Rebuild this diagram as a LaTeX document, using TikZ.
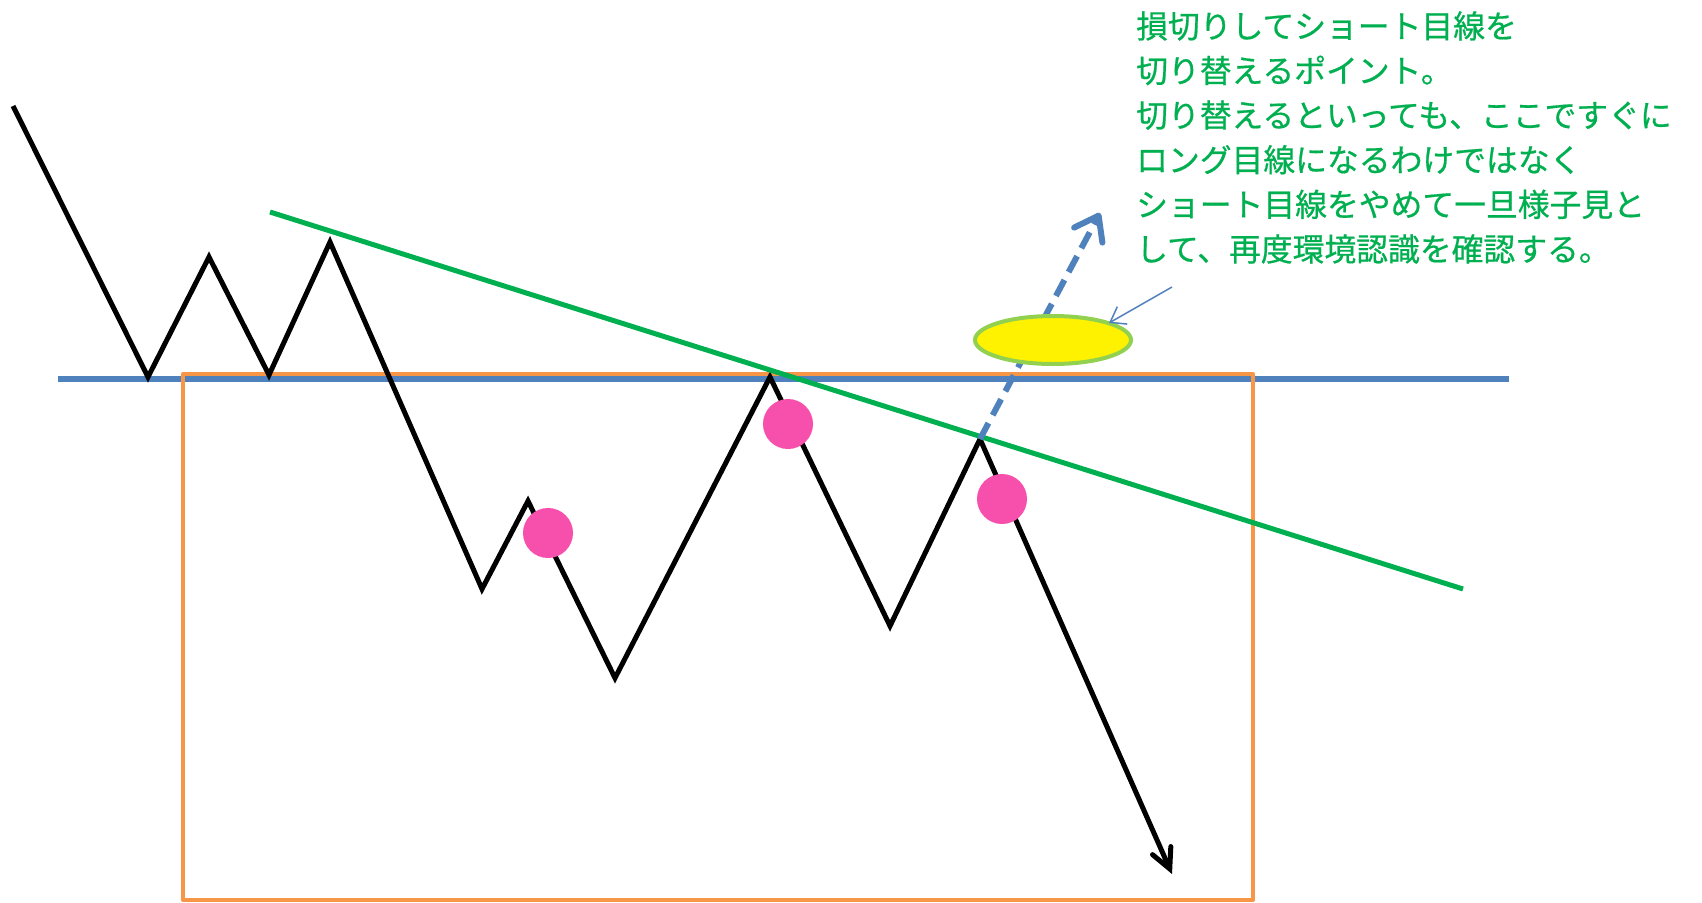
\documentclass[tikz,border=0pt]{standalone}
\usepackage{fontspec}
\newfontfamily\jp[FakeBold=0.6]{Noto Sans CJK JP}
\usetikzlibrary{arrows.meta}
\definecolor{cblue}{HTML}{4F81BD}
\definecolor{corange}{HTML}{F79646}
\definecolor{cgreen}{HTML}{00B050}
\definecolor{cpink}{HTML}{F64FAC}
\definecolor{clime}{HTML}{92D050}
\tikzset{
  priceline/.style={line width=5pt, black, line join=miter},
  levelline/.style={line width=6pt, cblue},
  boxline/.style={line width=4pt, corange, line join=round},
  trendline/.style={line width=5pt, cgreen},
  marker/.style={circle, fill=cpink, minimum size=50pt, inner sep=0pt},
  breakarrow/.style={line width=6pt, cblue, dash pattern=on 18pt off 9pt, -{Straight Barb[length=22pt,width=32pt,line cap=round,line join=round]}},
  notearrow/.style={line width=1.5pt, cblue, -{Straight Barb[length=14pt,width=20pt]}},
  notetext/.style={anchor=base west, inner sep=0pt, text=cgreen, font={\jp\fontsize{31.8}{36}\selectfont}}
}
\begin{document}
\begin{tikzpicture}[x=1pt,y=-1pt]
\useasboundingbox[fill=white] (0,0) rectangle (1702,902);
% level line
\coordinate (bl) at (58,378.5);
\coordinate (br) at (1509,378.5);
\draw[levelline] (bl) -- (br);
% box
\coordinate (boxa) at (183,374);
\coordinate (boxb) at (1253,900);
\draw[boxline] (boxa) rectangle (boxb);
% price path
\coordinate (p0) at (13,106);
\coordinate (p1) at (148,377);
\coordinate (p2) at (209,257);
\coordinate (p3) at (269,375);
\coordinate (p4) at (330,242);
\coordinate (p5) at (482,589);
\coordinate (p6) at (528,501);
\coordinate (p7) at (615,678);
\coordinate (p8) at (770,377);
\coordinate (p9) at (890,626);
\coordinate (p10) at (980,439);
\coordinate (p11) at (1172,874);
\draw[priceline] (p0) -- (p1) -- (p2) -- (p3) -- (p4) -- (p5) -- (p6) -- (p7) -- (p8) -- (p9) -- (p10);
\draw[priceline, -{Straight Barb[length=20pt,width=20pt,line cap=round]}] (p10) -- (p11);
% trend line
\coordinate (ga) at (270,212);
\coordinate (gb) at (1463,589);
\draw[trendline] (ga) -- (gb);
% markers
\node[marker] (m1) at (548,533) {};
\node[marker] (m2) at (788,424) {};
\node[marker] (m3) at (1002,499) {};
% break arrow
\coordinate (tip) at (1100,213);
\draw[breakarrow] (p10) -- (tip);
% ellipse
\draw[line width=4pt, clime, fill=yellow] (1053,340) ellipse [x radius=78, y radius=24];
\coordinate (ell) at (1109,323);
\coordinate (noteptr) at (1172,287);
\draw[notearrow] (noteptr) -- (ell);
% text
\node[notetext] (t1) at (1136,38) {損切りしてショート目線を};
\node[notetext] (t2) at (1136,82.6) {切り替えるポイント。};
\node[notetext] (t3) at (1136,127.2) {切り替えるといっても、ここですぐに};
\node[notetext] (t4) at (1136,171.8) {ロング目線になるわけではなく};
\node[notetext] (t5) at (1136,216.4) {ショート目線をやめて一旦様子見と};
\node[notetext] (t6) at (1136,261) {して、再度環境認識を確認する。};
\end{tikzpicture}
\end{document}
